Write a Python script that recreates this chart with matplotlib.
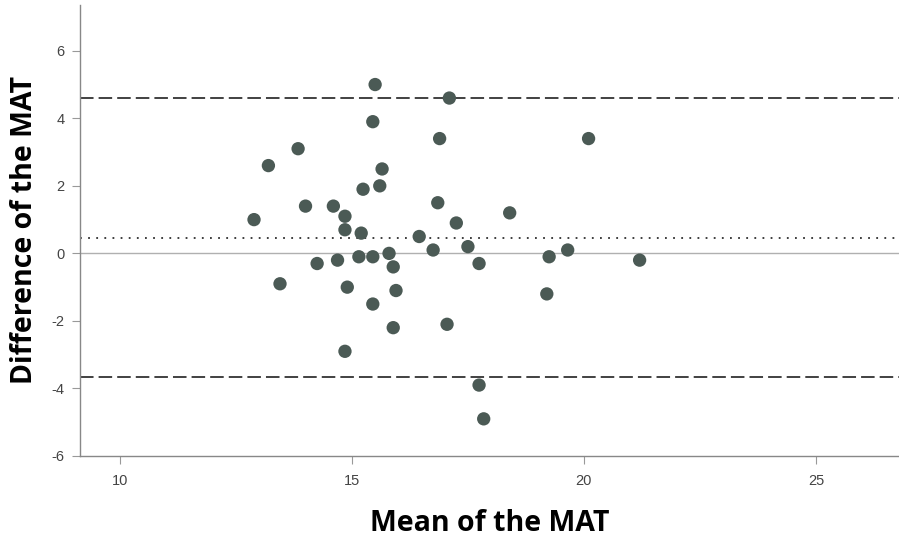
import numpy as np
import matplotlib
matplotlib.use("Agg")
import matplotlib.pyplot as plt

plt.rcParams["axes.unicode_minus"] = False

# Bland-Altman points
mean_mat = [12.89, 13.2, 13.45, 13.84, 14.0, 14.25, 14.6, 14.69, 14.85, 14.85,
            14.9, 14.85, 15.15, 15.2, 15.24, 15.45, 15.45, 15.5, 15.45, 15.6,
            15.65, 15.8, 15.89, 15.95, 15.89, 16.45, 16.75, 16.85, 16.89, 17.1,
            17.05, 17.25, 17.5, 17.74, 17.74, 17.84, 18.4, 19.2, 19.25, 19.65,
            20.1, 21.2]
diff_mat = [1.0, 2.6, -0.9, 3.1, 1.4, -0.3, 1.4, -0.2, 1.1, 0.7,
            -1.0, -2.9, -0.1, 0.6, 1.9, -0.1, 3.9, 5.0, -1.5, 2.0,
            2.5, 0.0, -0.4, -1.1, -2.2, 0.5, 0.1, 1.5, 3.4, 4.6,
            -2.1, 0.9, 0.2, -0.3, -3.9, -4.9, 1.2, -1.2, -0.1, 0.1,
            3.4, -0.2]
mean_diff = 0.47
upper_loa = 4.6
lower_loa = -3.66

x_ticks = [10, 15, 20, 25]
y_ticks = [-6, -4, -2, 0, 2, 4, 6]

fig = plt.figure(figsize=(8.99, 5.39), dpi=100)
ax = fig.add_axes([0.089, 0.154, 0.911, 0.837])

ax.axhline(0, color="#b0b0b0", lw=1.0, zorder=1)
ax.axhline(mean_diff, color="#2e2e2e", lw=1.3, ls=(0, (1, 3.5)), zorder=1)
ax.axhline(upper_loa, color="#333333", lw=1.3, ls=(0, (7.5, 2.8)), zorder=1)
ax.axhline(lower_loa, color="#333333", lw=1.3, ls=(0, (7.5, 2.8)), zorder=1)

ax.scatter(mean_mat, diff_mat, s=92, color="#4b5a55", edgecolors="none", zorder=3)

ax.set_xlim(9.14, 26.79)
ax.set_ylim(-6, 7.36)
ax.set_xticks(x_ticks)
ax.set_yticks(y_ticks)

tick_font = ["Liberation Sans Narrow", "Liberation Sans", "DejaVu Sans"]
for lab in ax.get_xticklabels() + ax.get_yticklabels():
    lab.set_family(tick_font)
    lab.set_fontsize(10.5)
    lab.set_color("#444444")

ax.tick_params(direction="out", length=6, width=0.8, color="#999999", pad=5)
ax.tick_params(axis="x", pad=7)

for side in ["top", "right"]:
    ax.spines[side].set_visible(False)
for side in ["left", "bottom"]:
    ax.spines[side].set_color("#888888")
    ax.spines[side].set_linewidth(1.0)

label_font = ["Open Sans", "DejaVu Sans"]
ax.set_xlabel("Mean of the MAT", family=label_font, fontweight="bold",
              fontsize=20.5, labelpad=15)
ax.set_ylabel("Difference of the MAT", family=label_font, fontweight="bold",
              fontsize=20.5, labelpad=9)

fig.savefig("out.png", dpi=100)
